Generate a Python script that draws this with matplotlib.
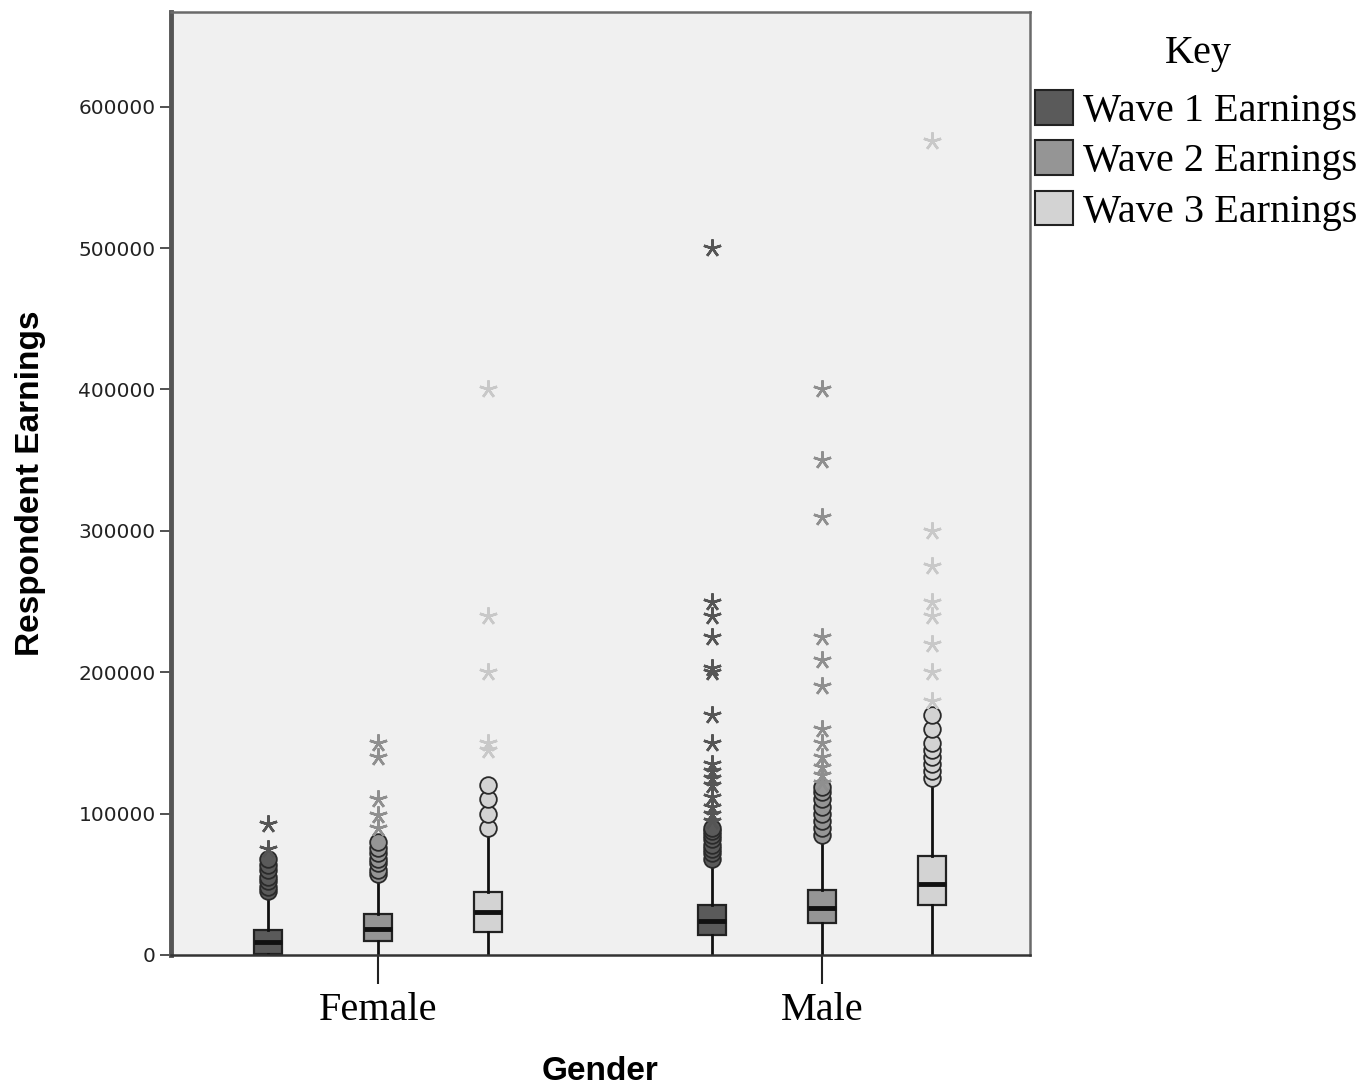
import matplotlib.pyplot as plt
from matplotlib.patches import Patch

# groups and series
genders = ['Female', 'Male']
waves = ['Wave 1 Earnings', 'Wave 2 Earnings', 'Wave 3 Earnings']

# box stats, order: Female W1, W2, W3, Male W1, W2, W3
q1 = [500, 9900, 16300, 14000, 22600, 35400]
med = [9200, 18400, 30400, 24000, 33300, 50000]
q3 = [17700, 29000, 44600, 35400, 46000, 70000]
whislo = [0, 0, 0, 0, 0, 0]
whishi = [42500, 55000, 85000, 62000, 80000, 120000]

# mild outliers (circles)
circles = [
    [45000, 48000, 52000, 55000, 60000, 64000, 68000],
    [57000, 60000, 65000, 68000, 72000, 76000, 80000],
    [90000, 100000, 110000, 120000],
    [68000, 72000, 75000, 78000, 82000, 85000, 88000, 90000],
    [85000, 90000, 95000, 100000, 105000, 110000, 115000, 119000],
    [125000, 130000, 135000, 140000, 145000, 150000, 160000, 170000],
]
# extreme outliers (stars)
stars = [
    [75000, 93000],
    [90000, 99000, 110000, 140000, 150000],
    [145000, 150000, 200000, 240000, 400000],
    [95000, 100000, 105000, 112000, 120000, 125000, 130000, 135000, 150000,
     170000, 200000, 203000, 225000, 240000, 250000, 500000],
    [122000, 127000, 133000, 140000, 150000, 160000, 190000, 209000, 225000,
     310000, 350000, 400000],
    [180000, 200000, 220000, 240000, 250000, 275000, 300000, 576000],
]

box_colors = ['#5a5a5a', '#959595', '#d3d3d3']
star_colors = ['#555555', '#8f8f8f', '#c8c8c8']
offsets = [-0.248, 0.0, 0.248]

fig = plt.figure(figsize=(13.71, 10.87), dpi=100)
ax = fig.add_axes([171 / 1371, 132 / 1087, 859 / 1371, 943 / 1087])
ax.set_facecolor('#f0f0f0')

stats, positions, fills = [], [], []
for gi, g in enumerate(genders):
    for wi, w in enumerate(waves):
        k = gi * 3 + wi
        stats.append(dict(med=med[k], q1=q1[k], q3=q3[k], whislo=whislo[k],
                          whishi=whishi[k], fliers=[], label=''))
        positions.append(gi + offsets[wi])
        fills.append(box_colors[wi])

bp = ax.bxp(stats, positions=positions, widths=0.063, patch_artist=True,
            showcaps=False, showfliers=False,
            boxprops=dict(edgecolor='#222222', linewidth=1.6),
            whiskerprops=dict(color='#111111', linewidth=2),
            medianprops=dict(color='#111111', linewidth=3.5, solid_capstyle='butt'))
for patch, c in zip(bp['boxes'], fills):
    patch.set_facecolor(c)

for k in range(6):
    wi = k % 3
    x = positions[k]
    ax.plot([x] * len(circles[k]), circles[k], 'o', ms=12, mfc=box_colors[wi],
            mec='#2a2a2a', mew=1.3, zorder=4)
    ax.plot([x] * len(stars[k]), stars[k], ls='none', marker=(5, 2, 0), ms=13,
            mec=star_colors[wi], mew=1.8, zorder=4)

ax.set_xlim(-0.4662, 1.4685)
ax.set_ylim(0, 667000)
ax.set_yticks(range(0, 600001, 100000))
ax.set_yticklabels([str(v) for v in range(0, 600001, 100000)],
                   fontfamily='DejaVu Sans', fontsize=14.5, color='#222222')
ax.tick_params(axis='y', length=8, width=1.2, pad=3, color='#333333')
ax.set_xticks([0, 1])
ax.set_xticklabels(genders, fontfamily='Liberation Serif', fontsize=29)
ax.tick_params(axis='x', length=21, width=1.5, pad=6, color='#222222')

for s in ['top', 'right']:
    ax.spines[s].set_color('#6a6a6a')
    ax.spines[s].set_linewidth(1.8)
ax.spines['bottom'].set_color('#333333')
ax.spines['bottom'].set_linewidth(1.8)
ax.spines['left'].set_color('#555555')
ax.spines['left'].set_linewidth(3.5)

ax.set_ylabel('Respondent Earnings', fontfamily='Liberation Sans',
              fontweight='bold', fontsize=24)
ax.yaxis.set_label_coords(-0.145, 0.5)
ax.set_xlabel('Gender', fontfamily='Liberation Sans', fontweight='bold',
              fontsize=24)
ax.xaxis.set_label_coords(0.5, -0.107)

fig.text(1198 / 1371, 1 - 54 / 1087, 'Key', ha='center', va='center',
         family='Liberation Serif', size=29)
handles = [Patch(facecolor=c, edgecolor='#222222', linewidth=1.5, label=w)
           for c, w in zip(box_colors, waves)]
fig.legend(handles=handles, loc='upper left',
           bbox_to_anchor=(1035 / 1371, 1 - 90 / 1087), frameon=False,
           prop=dict(family='Liberation Serif', size=29),
           handlelength=0.95, handleheight=0.95, handletextpad=0.25,
           labelspacing=0.25, borderpad=0, borderaxespad=0)

fig.savefig('out.png', dpi=100)
